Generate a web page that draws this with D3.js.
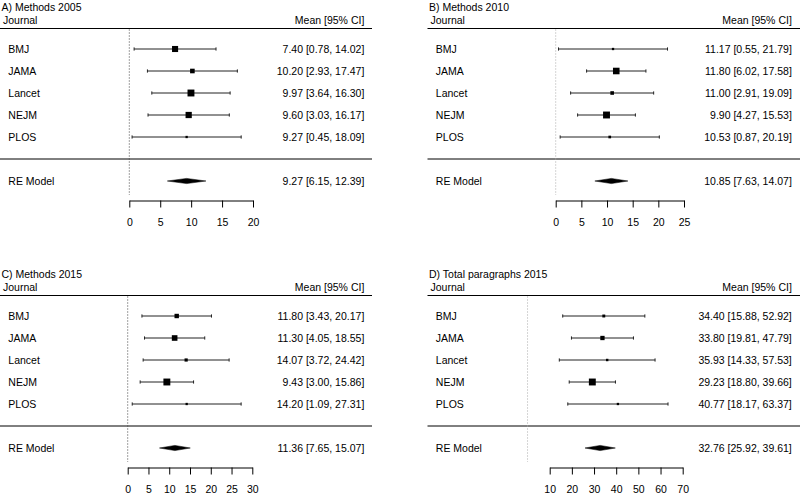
<!DOCTYPE html>
<html>
<head>
<meta charset="utf-8">
<script src="https://cdn.jsdelivr.net/npm/d3@7"></script>
<style>
  html, body { margin: 0; padding: 0; background: #fff; }
  svg { display: block; }
  text { font-family: "Liberation Sans", Arial, Helvetica, sans-serif; }
</style>
</head>
<body>
<svg id="chart" width="800" height="494"></svg>
<script>
// ---------- data ----------
const journals = ["BMJ", "JAMA", "Lancet", "NEJM", "PLOS"];
const panelTitles = ["A) Methods 2005", "B) Methods 2010", "C) Methods 2015", "D) Total paragraphs 2015"];
const summaryLabel = "RE Model";
const colLeftHeader = "Journal";
const colRightHeader = "Mean [95% CI]";

const meanA = [7.40, 10.20, 9.97, 9.60, 9.27];
const lowA  = [0.78, 2.93, 3.64, 3.03, 0.45];
const highA = [14.02, 17.47, 16.30, 16.17, 18.09];
const weightA = [22.2, 18.4, 24.3, 22.6, 12.5];
const reA = [9.27, 6.15, 12.39];
const ticksA = [0, 5, 10, 15, 20];

const meanB = [11.17, 11.80, 11.00, 9.90, 10.53];
const lowB  = [0.55, 6.02, 2.91, 4.27, 0.87];
const highB = [21.79, 17.58, 19.09, 15.53, 20.19];
const weightB = [9.2, 31.0, 15.9, 32.7, 11.1];
const reB = [10.85, 7.63, 14.07];
const ticksB = [0, 5, 10, 15, 20, 25];

const meanC = [11.80, 11.30, 14.07, 9.43, 14.20];
const lowC  = [3.43, 4.05, 3.72, 3.00, 1.09];
const highC = [20.17, 18.55, 24.42, 15.86, 27.31];
const weightC = [19.6, 26.2, 12.9, 33.3, 8.0];
const reC = [11.36, 7.65, 15.07];
const ticksC = [0, 5, 10, 15, 20, 25, 30];

const meanD = [34.40, 33.80, 35.93, 29.23, 40.77];
const lowD  = [15.88, 19.81, 14.33, 18.80, 18.17];
const highD = [52.92, 47.79, 57.53, 39.66, 63.37];
const weightD = [13.7, 24.0, 10.1, 43.1, 9.2];
const reD = [32.76, 25.92, 39.61];
const ticksD = [10, 20, 30, 40, 50, 60, 70];

const refValue = 0;

// ---------- layout ----------
const panels = [
  { title: panelTitles[0], mean: meanA, low: lowA, high: highA, w: weightA, re: reA, ticks: ticksA,
    x0: 0, y0: 0, axL: 129.3, axR: 253, lineR: 372, refColor: "#444" },
  { title: panelTitles[1], mean: meanB, low: lowB, high: highB, w: weightB, re: reB, ticks: ticksB,
    x0: 427.5, y0: 0, axL: 128.2, axR: 256.5, lineR: 400, refColor: "#aaa" },
  { title: panelTitles[2], mean: meanC, low: lowC, high: highC, w: weightC, re: reC, ticks: ticksC,
    x0: 0, y0: 267, axL: 127.7, axR: 252.3, lineR: 372, refColor: "#444" },
  { title: panelTitles[3], mean: meanD, low: lowD, high: highD, w: weightD, re: reD, ticks: ticksD,
    x0: 427.5, y0: 267, axL: 122.2, axR: 255.2, lineR: 400, refColor: "#aaa" }
];

const FS = 10.5;
const svg = d3.select("#chart");

panels.forEach(p => {
  const g = svg.append("g").attr("transform", `translate(${p.x0},${p.y0})`);

  const x = d3.scaleLinear()
    .domain([d3.min(p.ticks), d3.max(p.ticks)])
    .range([p.axL, p.axR]);

  const y = d3.scalePoint()
    .domain(journals)
    .range([49, 137]);

  const sepY = 159, reY = 181, axisY = 200.5, headerY = 28.5;

  const size = d3.scaleLinear()
    .domain([d3.min(p.w), d3.max(p.w)])
    .range([2.3, 6.9]);

  // title & headers
  g.append("text").attr("x", 1.5).attr("y", 10.5)
    .attr("font-size", FS).text(p.title);
  g.append("text").attr("x", 3).attr("y", 24.3)
    .attr("font-size", FS).text(colLeftHeader);
  g.append("text").attr("x", 364.3).attr("y", 24.3)
    .attr("font-size", FS).attr("text-anchor", "end").text(colRightHeader);

  // header and separator lines
  g.append("line").attr("x1", 0).attr("x2", p.lineR)
    .attr("y1", headerY).attr("y2", headerY)
    .attr("stroke", "#000").attr("stroke-width", 1);
  g.append("line").attr("x1", 0).attr("x2", p.lineR)
    .attr("y1", sepY).attr("y2", sepY)
    .attr("stroke", "#000").attr("stroke-width", 1);

  // reference dotted line
  g.append("line")
    .attr("x1", x(refValue)).attr("x2", x(refValue))
    .attr("y1", headerY + 1).attr("y2", reY + 14)
    .attr("stroke", p.refColor).attr("stroke-width", 1)
    .attr("stroke-dasharray", "1,2");

  const rows = journals.map((j, i) => ({
    j, m: p.mean[i], lo: p.low[i], hi: p.high[i], w: p.w[i]
  }));

  // row labels
  g.selectAll("text.lab").data(rows).enter().append("text")
    .attr("class", "lab")
    .attr("x", 8.3).attr("y", d => y(d.j)).attr("dy", "0.36em")
    .attr("font-size", FS).text(d => d.j);

  // CI lines
  g.selectAll("line.ci").data(rows).enter().append("line")
    .attr("class", "ci")
    .attr("x1", d => x(d.lo)).attr("x2", d => x(d.hi))
    .attr("y1", d => y(d.j)).attr("y2", d => y(d.j))
    .attr("stroke", "#222").attr("stroke-width", 1);
  // caps
  ["lo", "hi"].forEach(k => {
    g.selectAll("line.cap" + k).data(rows).enter().append("line")
      .attr("class", "cap" + k)
      .attr("x1", d => x(d[k])).attr("x2", d => x(d[k]))
      .attr("y1", d => y(d.j) - 1.6).attr("y2", d => y(d.j) + 1.6)
      .attr("stroke", "#222").attr("stroke-width", 1);
  });
  // squares
  g.selectAll("rect.sq").data(rows).enter().append("rect")
    .attr("class", "sq")
    .attr("x", d => x(d.m) - size(d.w) / 2)
    .attr("y", d => y(d.j) - size(d.w) / 2)
    .attr("width", d => size(d.w)).attr("height", d => size(d.w))
    .attr("fill", "#000");

  // right column text
  g.selectAll("text.val").data(rows).enter().append("text")
    .attr("class", "val")
    .attr("x", 364.3).attr("y", d => y(d.j)).attr("dy", "0.36em")
    .attr("font-size", FS).attr("text-anchor", "end")
    .text(d => `${d.m.toFixed(2)} [${d.lo.toFixed(2)}, ${d.hi.toFixed(2)}]`);

  // summary
  g.append("text").attr("x", 8.3).attr("y", reY).attr("dy", "0.36em")
    .attr("font-size", FS).text(summaryLabel);
  const [rm, rl, rh] = p.re;
  g.append("polygon")
    .attr("points", [[x(rl), reY], [x(rm), reY - 2.6], [x(rh), reY], [x(rm), reY + 2.6]]
      .map(q => q.join(",")).join(" "))
    .attr("fill", "#000").attr("stroke", "#000").attr("stroke-width", 0.5);
  g.append("text").attr("x", 364.3).attr("y", reY).attr("dy", "0.36em")
    .attr("font-size", FS).attr("text-anchor", "end")
    .text(`${rm.toFixed(2)} [${rl.toFixed(2)}, ${rh.toFixed(2)}]`);

  // axis
  const ax = g.append("g").attr("transform", `translate(0,${axisY})`)
    .call(d3.axisBottom(x).tickValues(p.ticks).tickSize(7).tickSizeOuter(0).tickPadding(11.5)
      .tickFormat(d3.format("d")));
  ax.attr("font-family", null).attr("font-size", null);
  ax.selectAll("text").attr("font-size", FS).attr("fill", "#000");
  ax.selectAll("path, line").attr("stroke", "#000");
});
</script>
</body>
</html>
